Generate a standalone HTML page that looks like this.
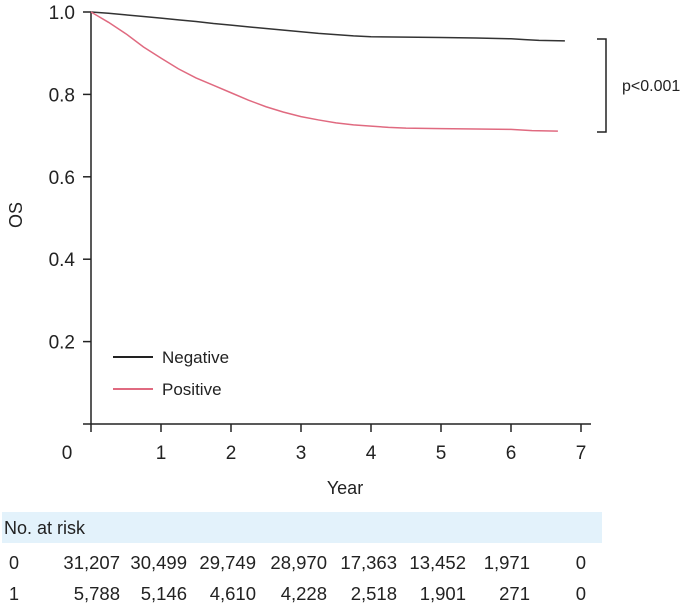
<!DOCTYPE html>
<html><head><meta charset="utf-8">
<style>
body{margin:0;background:#fff;}
svg{display:block;font-family:"Liberation Sans",sans-serif;}
</style></head>
<body>
<svg id="chart" width="690" height="604" viewBox="0 0 690 604" xmlns="http://www.w3.org/2000/svg">
  <rect x="2" y="512" width="600" height="31" fill="#e3f2fb"/>
  <text x="4" y="534" font-size="18" fill="#222">No. at risk</text>
  <g id="axes"></g>
  <g id="curves"></g>
  <g>
    <line x1="113" y1="357" x2="153" y2="357" stroke="#222" stroke-width="2"/>
    <text x="162" y="363" font-size="17" fill="#222">Negative</text>
    <line x1="113" y1="389" x2="153" y2="389" stroke="#e06a80" stroke-width="2"/>
    <text x="162" y="395" font-size="17" fill="#222">Positive</text>
  </g>
  <g>
    <polyline points="597,39 606,39 606,132 597,132" fill="none" stroke="#222" stroke-width="1.5"/>
    <text x="622" y="91" font-size="16" fill="#222">p&lt;0.001</text>
  </g>
  <text x="345" y="494" font-size="18" fill="#222" text-anchor="middle">Year</text>
  <text transform="translate(22,215) rotate(-90)" font-size="18" fill="#222" text-anchor="middle">OS</text>
  <g id="table"></g>
</svg>
<script>
const xTicks = [0,1,2,3,4,5,6,7];
const yTicks = [0.2,0.4,0.6,0.8,1.0];
const negTimes = [0,0.25,0.5,0.75,1,1.25,1.5,1.75,2,2.25,2.5,2.75,3,3.25,3.5,3.75,4,4.5,5,5.5,6,6.2,6.4,6.77];
const negSurv  = [1,0.997,0.993,0.989,0.985,0.981,0.977,0.972,0.968,0.964,0.960,0.956,0.952,0.948,0.945,0.942,0.940,0.939,0.938,0.937,0.935,0.933,0.931,0.930];
const posTimes = [0,0.1,0.25,0.5,0.75,1,1.25,1.5,1.75,2,2.25,2.5,2.75,3,3.25,3.5,3.75,4,4.25,4.5,5,5.5,6,6.3,6.67];
const posSurv  = [1,0.99,0.975,0.947,0.915,0.888,0.862,0.84,0.822,0.804,0.786,0.77,0.757,0.746,0.738,0.731,0.726,0.723,0.72,0.718,0.717,0.716,0.715,0.712,0.711];
const rowLabels = ["0","1"];
const riskNeg = ["31,207","30,499","29,749","28,970","17,363","13,452","1,971","0"];
const riskPos = ["5,788","5,146","4,610","4,228","2,518","1,901","271","0"];

const NS="http://www.w3.org/2000/svg";
function X(t){return 91+t*70;}
function Y(s){return 424-s*412;}
function mk(tag,attrs,parent){const e=document.createElementNS(NS,tag);for(const k in attrs)e.setAttribute(k,attrs[k]);parent.appendChild(e);return e;}
const axes=document.getElementById('axes');
const ya=mk('line',{x1:91,y1:Y(1),x2:91,y2:Y(0),stroke:'#222','stroke-width':1.5},axes);


const xa=mk('line',{x1:83,y1:Y(0),x2:X(7)+10,y2:Y(0),stroke:'#222','stroke-width':1.5},axes);


xTicks.forEach(t=>{
  mk('line',{x1:X(t),y1:Y(0),x2:X(t),y2:Y(0)+8,stroke:'#222','stroke-width':1.5},axes);
  const tx=mk('text',{x:t===0?67:X(t),y:459,'font-size':19,fill:'#222','text-anchor':'middle'},axes);
  tx.textContent=String(t);
  
  
});
yTicks.forEach(v=>{
  mk('line',{x1:83,y1:Y(v),x2:91,y2:Y(v),stroke:'#222','stroke-width':1.5},axes);
  const tx=mk('text',{x:75,y:Y(v)+7,'font-size':19,fill:'#222','text-anchor':'end'},axes);
  tx.textContent=v.toFixed(1);
  
  
});
function linePath(ts,ss){let d='M'+X(ts[0])+','+Y(ss[0]);for(let i=1;i<ts.length;i++){d+=' L'+X(ts[i])+','+Y(ss[i]);}return d;}
const curves=document.getElementById('curves');
const pn=mk('path',{d:linePath(negTimes,negSurv),fill:'none',stroke:'#333','stroke-width':1.5},curves);


const pp=mk('path',{d:linePath(posTimes,posSurv),fill:'none',stroke:'#e06a80','stroke-width':1.5},curves);


const table=document.getElementById('table');
const colRight=[120,187,256,327,397,466,530,586];
[riskNeg,riskPos].forEach((row,ri)=>{
  const y=ri===0?569:600;
  const lb=mk('text',{x:9,y:y,'font-size':18,fill:'#222'},table);
  lb.textContent=rowLabels[ri];
  
  
  row.forEach((v,i)=>{
    const c=mk('text',{x:colRight[i],y:y,'font-size':18.5,fill:'#222','text-anchor':'end'},table);
    c.textContent=v;
    
    
  });
});
</script>
</body></html>
